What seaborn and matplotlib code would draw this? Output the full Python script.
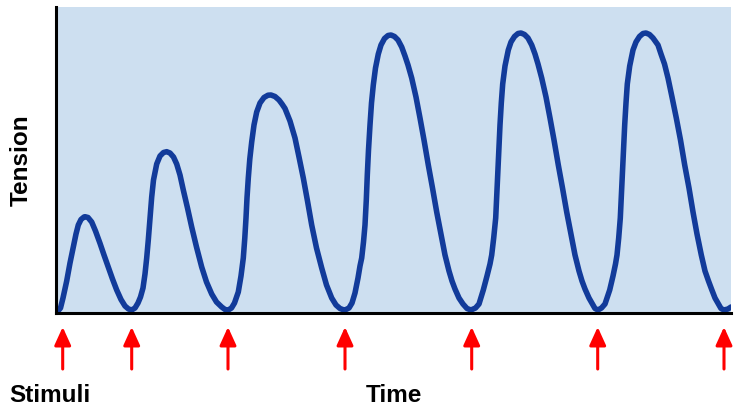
import matplotlib
matplotlib.use("Agg")
import matplotlib.pyplot as plt
import seaborn as sns
import pandas as pd

# ---- data ----
twitch1_t = [2, 4.5, 7, 10.7, 14, 17.3, 20, 22.3, 25, 28, 29, 32, 35.7, 39.5, 44, 48,
             52.3, 56.5, 60.7, 65, 69, 72.5, 75.7]
twitch1_v = [2, 5, 15, 32, 50, 66, 79, 88, 93.5, 96, 96.3, 95.5, 91, 82, 69.7, 58,
             46, 34, 23, 13.5, 7, 4, 3]

twitch2_t = [79, 82, 84.5, 87, 89, 90.7, 92.3, 94, 95.7, 97.5, 100.7, 104, 107.5, 110.7,
             114, 117.5, 120.7, 124, 127.3, 131.5, 135.7, 140.5, 145.7, 150.5, 155.7,
             160.5, 165.7, 169, 172.3]
twitch2_v = [5, 10, 16, 25, 39, 55, 73, 95, 116, 133, 149, 157, 160.5, 161.3,
             160, 156, 149, 138, 123, 105, 86, 66, 46, 31, 19,
             11, 6, 3.5, 3]

twitch3_t = [175.5, 178.5, 182.3, 185, 187.3, 188.8, 190, 191, 192.3, 193.8, 195.7, 198,
             200.7, 204, 208, 212, 215, 219, 223, 226, 229, 234, 239, 243, 247.3, 251.5,
             255.7, 260.5, 265.7, 270.5, 275.7, 280, 284, 288]
twitch3_v = [5, 10, 21, 37, 55, 75, 95, 115, 135, 154, 171, 188,
             201, 210, 215.5, 217.8, 218, 216.5, 213, 209, 204.5, 192, 175, 156, 135, 112,
             88, 65, 45, 28, 15, 8, 4.5, 3]

twitch4_t = [289, 293, 296, 299, 302, 304, 305.7, 307.5, 309, 310.3, 311.3, 312.5, 314,
             315.5, 317.3, 319.5, 322.3, 325, 328.5, 332, 335, 338.5, 342, 345.7, 349, 352,
             355.7, 360, 364, 368, 372.3, 376.5, 380.7, 385, 389, 393, 396, 399, 403, 407,
             411, 415]
twitch4_v = [3, 5, 10, 20, 35, 47, 55, 71, 88, 113, 138, 163, 188,
             210, 228, 245, 259, 268, 274.5, 277.5, 278, 276.5, 273, 266, 257, 248,
             235, 216, 195, 173, 148, 125, 101, 79, 58, 42, 32, 24, 15, 9,
             4.5, 3]

twitch5_t = [419.5, 423, 427.3, 431, 434, 435.7, 437.7, 439.7, 440.7, 441.7, 442.8, 444,
             445.3, 446.7, 449, 452.3, 455, 458.5, 462, 465, 468.5, 472, 475.7, 479, 482,
             485.7, 490, 494, 498, 502.3, 506.5, 510.7, 515, 519, 523, 526, 529, 533,
             536.5, 539, 542]
twitch5_v = [5, 9, 23, 37, 49, 58, 75, 95, 116, 138, 163, 188,
             210, 229, 247, 263, 271, 276.5, 279.5, 280, 278.5, 275, 268, 259, 249,
             235, 216, 195, 173, 148, 125, 101, 79, 58, 42, 32, 24, 15,
             9, 4.5, 3]

twitch6_t = [545.5, 549, 553.7, 557, 559.5, 561, 562.7, 564.3, 565.3, 566.3, 567.5, 568.7,
             570, 571.3, 573.7, 577, 580, 583.5, 587, 590, 593.5, 597, 602, 605, 608.5,
             612, 616, 620.3, 624.5, 628.7, 633, 637, 641, 645.3, 649, 652.5, 655.5, 659,
             662.5, 665, 668, 672, 675]
twitch6_v = [5, 9, 23, 37, 49, 58, 75, 95, 116, 138, 163, 188,
             210, 229, 247, 263, 271, 276.5, 279.5, 280, 278.5, 275, 268, 259, 249,
             235, 216, 195, 173, 148, 125, 101, 79, 58, 42, 32, 24, 15,
             9, 4.5, 3, 4, 6]

stimuli_t = [6.7, 75.7, 172, 289, 415.7, 541.7, 668]

y_label = "Tension"
x_label = "Time"
stim_label = "Stimuli"

# ---- build table ----
times = twitch1_t + twitch2_t + twitch3_t + twitch4_t + twitch5_t + twitch6_t
values = twitch1_v + twitch2_v + twitch3_v + twitch4_v + twitch5_v + twitch6_v
df = pd.DataFrame({"time": times, "tension": values})

sns.set_theme(style="white")
plt.rcParams["font.family"] = ["Liberation Sans", "DejaVu Sans"]

W, H = 739, 409
fig = plt.figure(figsize=(W / 100, H / 100), dpi=100)
ax = fig.add_axes([56 / W, (H - 313) / H, (731 - 56) / W, (313 - 7) / H])
ax.set_facecolor("#cddff0")

sns.lineplot(data=df, x="time", y="tension", ax=ax, sort=False,
             color="#123b9a", linewidth=4.0, estimator=None)
ax.lines[0].set_solid_capstyle("round")
ax.lines[0].set_solid_joinstyle("round")

ax.set_xlim(0, 675)
ax.set_ylim(0, 306)
ax.set_xticks([])
ax.set_yticks([])
ax.set_xlabel("")
ax.set_ylabel("")
for s in ["top", "right"]:
    ax.spines[s].set_visible(False)
for s in ["left", "bottom"]:
    ax.spines[s].set_visible(True)
    ax.spines[s].set_color("black")
    ax.spines[s].set_linewidth(2.2)

# arrows for stimuli, below the axes
tip = (313 - 327) / 306
tail = (313 - 369) / 306
for t in stimuli_t:
    ax.annotate("", xy=(t, tip), xytext=(t, tail),
                xycoords=ax.get_xaxis_transform(),
                textcoords=ax.get_xaxis_transform(),
                annotation_clip=False,
                arrowprops=dict(arrowstyle="-|>,head_length=1.1,head_width=0.5",
                                mutation_scale=10, color="#ff0000",
                                lw=2.2, shrinkA=0, shrinkB=0))

fig.text(21 / W, 1 - 160 / H, y_label, rotation=90, ha="center", va="center",
         fontsize=17.5, fontweight="bold", color="black")
fig.text(50 / W, 1 - 396 / H, stim_label, ha="center", va="center",
         fontsize=17.5, fontweight="bold", color="black")
fig.text(394 / W, 1 - 396 / H, x_label, ha="center", va="center",
         fontsize=17.5, fontweight="bold", color="black")

fig.savefig("out.png", dpi=100)
